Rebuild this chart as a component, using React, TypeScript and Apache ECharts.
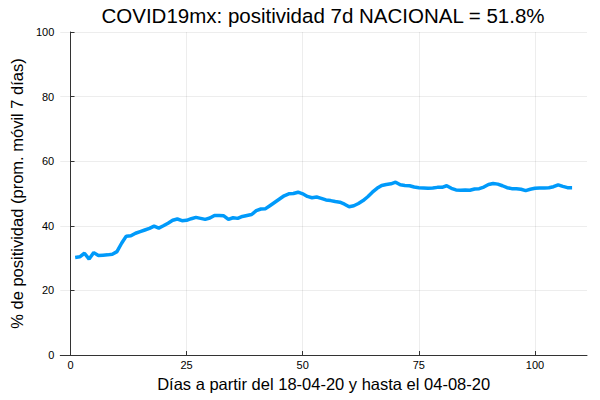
import React, { useEffect, useRef } from "react";
import * as echarts from "echarts";

const TITLE = "COVID19mx: positividad 7d NACIONAL = 51.8%";
const X_NAME = "Días a partir del 18-04-20 y hasta el 04-08-20";
const Y_NAME = "% de positividad (prom. móvil 7 días)";
const X_TICKS = [0, 25, 50, 75, 100];
const Y_TICKS = [0, 20, 40, 60, 80, 100];

const POSITIVITY = [
  30.2, 30.4, 31.5, 29.7, 31.7, 30.8, 30.9, 31.0, 31.2, 32.0,
  34.6, 36.8, 36.9, 37.7, 38.2, 38.7, 39.2, 39.9, 39.3, 40.0,
  40.8, 41.7, 42.1, 41.6, 41.7, 42.2, 42.6, 42.3, 42.0, 42.4,
  43.2, 43.2, 43.1, 42.0, 42.5, 42.3, 42.9, 43.2, 43.5, 44.7,
  45.2, 45.3, 46.3, 47.3, 48.3, 49.3, 49.9, 50.0, 50.4, 49.9,
  49.1, 48.7, 48.9, 48.5, 48.0, 47.8, 47.5, 47.3, 46.7, 45.9,
  46.2, 46.9, 47.8, 49.0, 50.4, 51.6, 52.5, 52.8, 53.0, 53.5,
  52.7, 52.5, 52.4, 52.0, 51.8, 51.7, 51.6, 51.7, 51.9, 51.9,
  52.4, 51.6, 51.1, 51.0, 51.1, 51.0, 51.4, 51.5, 52.0, 52.8,
  53.1, 52.9, 52.4, 51.8, 51.5, 51.5, 51.3, 50.9, 51.3, 51.6,
  51.7, 51.7, 51.8, 52.1, 52.7, 52.2, 51.8, 51.8,
];
const DAYS = POSITIVITY.map((_, i) => i + 1);

const FONT = "Liberation Sans";

export default function App() {
  const ref = useRef<HTMLDivElement>(null);
  useEffect(() => {
    if (!ref.current) return;
    const chart = echarts.init(ref.current, null, { renderer: "svg" });
    const data = DAYS.map((d, i) => [d, POSITIVITY[i]]);
    chart.setOption({
      animation: false,
      backgroundColor: "#ffffff",
      textStyle: { fontFamily: FONT },
      title: {
        text: TITLE,
        left: 318,
        textAlign: "center",
        top: 0,
        textStyle: { fontSize: 20.5, fontWeight: "normal", color: "#000", fontFamily: FONT },
      },
      grid: { left: 57, right: 13, top: 32, bottom: 45 },
      xAxis: {
        type: "value",
        min: -2.21,
        max: 111.21,
        name: X_NAME,
        nameLocation: "middle",
        nameGap: 20,
        nameTextStyle: { fontSize: 16.5, color: "#000", fontFamily: FONT },
        axisLine: { show: true, lineStyle: { color: "#333", width: 1 } },
        axisTick: { show: true, inside: true, length: 4, customValues: X_TICKS, lineStyle: { color: "#333" } },
        axisLabel: { customValues: X_TICKS, fontSize: 11, color: "#000", margin: 4, fontFamily: FONT },
        splitLine: { show: true, lineStyle: { color: "rgba(0,0,0,0.07)", width: 1 } },
      },
      yAxis: {
        type: "value",
        min: 0,
        max: 100,
        interval: 20,
        name: Y_NAME,
        nameLocation: "middle",
        nameGap: 33,
        nameTextStyle: { fontSize: 16.5, color: "#000", fontFamily: FONT },
        axisLine: { show: true, lineStyle: { color: "#333", width: 1 } },
        axisTick: { show: true, inside: true, length: 4, lineStyle: { color: "#333" } },
        axisLabel: { fontSize: 11, color: "#000", margin: 6, fontFamily: FONT, formatter: (v: number) => (Y_TICKS.includes(v) ? String(v) : "") },
        splitLine: { show: true, lineStyle: { color: "rgba(0,0,0,0.07)", width: 1 } },
      },
      series: [
        {
          type: "line",
          data,
          showSymbol: false,
          symbol: "none",
          lineStyle: { color: "#009AFA", width: 3.5 },
          itemStyle: { color: "#009AFA" },
        },
      ],
    });
    return () => chart.dispose();
  }, []);
  return <div ref={ref} style={{ position: "absolute", left: 0, top: 0, width: 600, height: 400 }} />;
}
